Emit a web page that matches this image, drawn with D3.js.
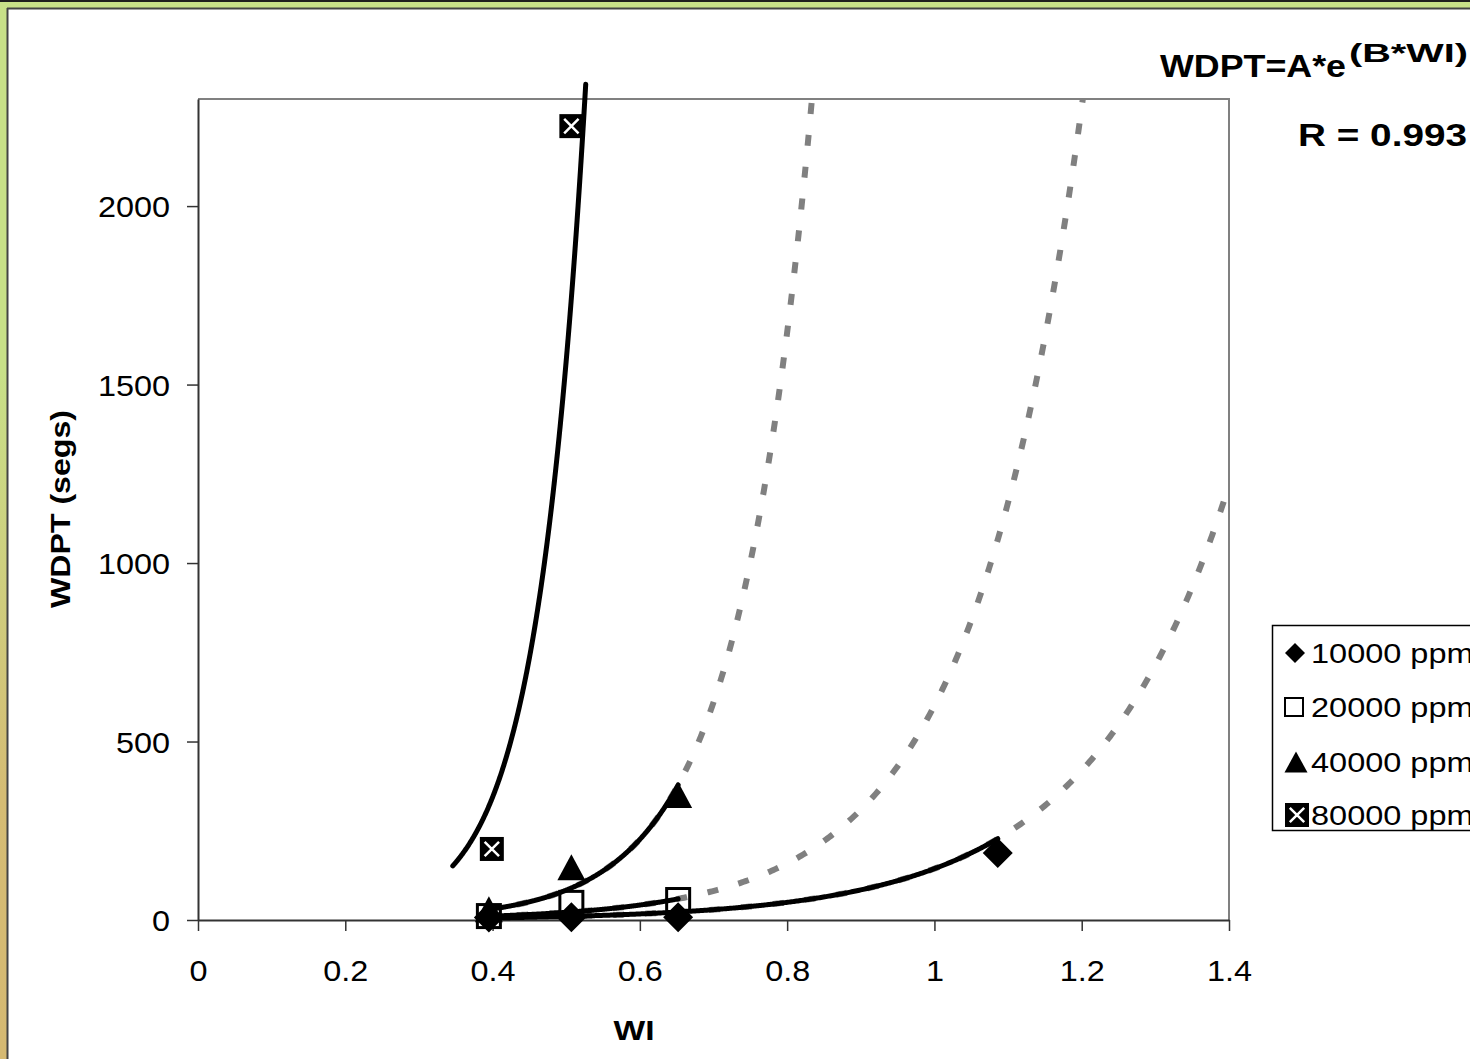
<!DOCTYPE html>
<html>
<head>
<meta charset="utf-8">
<script src="https://cdn.jsdelivr.net/npm/d3@7"></script>
<style>
  html, body { margin: 0; padding: 0; background: #fff; }
  svg { display: block; }
  text { font-family: "Liberation Sans", Arial, sans-serif; fill: #000; }
</style>
</head>
<body>
<svg id="chart" width="1470" height="1059"></svg>
<script>
// Series (CO2 concentration) and measured points
const seriesNames = ["10000 ppm", "20000 ppm", "40000 ppm", "80000 ppm"];

const wi10000 = [0.395, 0.507, 0.652, 1.086];
const wdpt10000 = [7, 8, 8, 188];
const wi20000 = [0.395, 0.507, 0.652];
const wdpt20000 = [11, 48, 56];
const wi40000 = [0.395, 0.507, 0.652];
const wdpt40000 = [30, 148, 350];
const wi80000 = [0.399, 0.507];
const wdpt80000 = [199, 2224];

// Exponential fit WDPT = A * e^(B*WI) for each series
const fitA = [0.69, 0.77, 0.584, 0.80];
const fitB = [5.34, 6.66, 9.93, 15.16];
const fitFrom = [0.39, 0.39, 0.39, 0.346];
const fitTo = [1.086, 0.652, 0.652, 0.5265];
const extendTo = 1.4;

// Axis ticks
const xTicks = [0, 0.2, 0.4, 0.6, 0.8, 1, 1.2, 1.4];
const yTicks = [0, 500, 1000, 1500, 2000];

const svg = d3.select("#chart");
const W = 1470, H = 1059;

// Widen text horizontally by a factor, keeping its glyph height
function stretch(sel, f) {
  sel.each(function () {
    const w = this.getComputedTextLength();
    d3.select(this).attr("textLength", w * f).attr("lengthAdjust", "spacingAndGlyphs");
  });
}

// Frame edges
const defs = svg.append("defs");
const grad = defs.append("linearGradient").attr("id", "edgeGrad")
  .attr("x1", 0).attr("y1", 0).attr("x2", 0).attr("y2", 1);
grad.append("stop").attr("offset", "0%").attr("stop-color", "#c8e088");
grad.append("stop").attr("offset", "35%").attr("stop-color", "#c8e088");
grad.append("stop").attr("offset", "75%").attr("stop-color", "#d5bc74");
grad.append("stop").attr("offset", "100%").attr("stop-color", "#d5b972");

svg.append("rect").attr("x", 0).attr("y", 0).attr("width", W).attr("height", H).attr("fill", "#fff");
svg.append("rect").attr("x", 0).attr("y", 0).attr("width", 7).attr("height", H).attr("fill", "url(#edgeGrad)");
svg.append("rect").attr("x", 0).attr("y", 0).attr("width", W).attr("height", 8).attr("fill", "#c8e088");
svg.append("rect").attr("x", 0).attr("y", 0).attr("width", W).attr("height", 2).attr("fill", "#1e1e1e");
svg.append("line").attr("x1", 7).attr("x2", W).attr("y1", 8.5).attr("y2", 8.5).attr("stroke", "#444").attr("stroke-width", 2);
svg.append("line").attr("x1", 7.5).attr("x2", 7.5).attr("y1", 8).attr("y2", H).attr("stroke", "#444").attr("stroke-width", 2);

// Plot area
const plot = { left: 198, right: 1229, top: 99, bottom: 920 };
const x = d3.scaleLinear().domain([0, 1.4]).range([plot.left, plot.right]);
const y = d3.scaleLinear().domain([0, 2300]).range([plot.bottom, plot.top]);

defs.append("clipPath").attr("id", "plotClip").append("rect")
  .attr("x", plot.left).attr("y", plot.top)
  .attr("width", plot.right - plot.left).attr("height", plot.bottom - plot.top);

// Plot border (top and right)
svg.append("path")
  .attr("d", `M${plot.left},${plot.top}H${plot.right}V${plot.bottom}`)
  .attr("fill", "none").attr("stroke", "#808080").attr("stroke-width", 2);

// Axes
const xAxis = d3.axisBottom(x).tickValues(xTicks).tickSize(11).tickSizeOuter(0)
  .tickFormat(d => d3.format("~g")(d));
const gx = svg.append("g").attr("transform", `translate(0,${plot.bottom})`).call(xAxis);
gx.select(".domain").attr("stroke", "#333").attr("stroke-width", 2);
gx.selectAll(".tick line").attr("stroke", "#333").attr("stroke-width", 1.5);
gx.selectAll(".tick text").attr("font-size", 30).attr("y", 0).attr("dy", 0)
  .attr("transform", "translate(0,61)")
  .style("font-family", "'Liberation Sans', Arial, sans-serif");
stretch(gx.selectAll(".tick text"), 1.08);

const yAxis = d3.axisLeft(y).tickValues(yTicks).tickSize(11).tickSizeOuter(0)
  .tickFormat(d3.format("d"));
const gy = svg.append("g").attr("transform", `translate(${plot.left},0)`).call(yAxis);
gy.select(".domain").attr("stroke", "#333").attr("stroke-width", 2);
gy.selectAll(".tick line").attr("stroke", "#333").attr("stroke-width", 1.5);
gy.selectAll(".tick text").attr("font-size", 30).attr("x", -28).attr("dy", "0.35em")
  .style("font-family", "'Liberation Sans', Arial, sans-serif");
stretch(gy.selectAll(".tick text"), 1.08);

// Axis titles
svg.append("text").attr("transform", "translate(70,509) rotate(-90)")
  .attr("text-anchor", "middle").attr("font-size", 28).attr("font-weight", "bold")
  .attr("textLength", 198).attr("lengthAdjust", "spacingAndGlyphs")
  .text("WDPT (segs)");
svg.append("text").attr("x", 634).attr("y", 1040)
  .attr("text-anchor", "middle").attr("font-size", 28).attr("font-weight", "bold")
  .attr("textLength", 41).attr("lengthAdjust", "spacingAndGlyphs")
  .text("WI");

// Fitted curves
const line = d3.line().x(d => x(d[0])).y(d => y(d[1]));
function curve(i, from, to) {
  const n = 400;
  return d3.range(n + 1).map(k => {
    const w = from + (to - from) * k / n;
    return [w, fitA[i] * Math.exp(fitB[i] * w)];
  });
}

// Extrapolated (dashed) trend
const dashG = svg.append("g").attr("clip-path", "url(#plotClip)");
for (let i = 0; i < 3; i++) {
  dashG.append("path").attr("d", line(curve(i, fitFrom[i], extendTo)))
    .attr("fill", "none").attr("stroke", "#808080").attr("stroke-width", 6)
    .attr("stroke-dasharray", "11 21");
}
// Fitted range (solid)
for (let i = 0; i < 4; i++) {
  svg.append("path").attr("d", line(curve(i, fitFrom[i], fitTo[i])))
    .attr("fill", "none").attr("stroke", "#000").attr("stroke-width", 5)
    .attr("stroke-linejoin", "round").attr("stroke-linecap", "round");
}

// Marker shapes
function diamond(g, cx, cy, r) {
  g.append("path").attr("d", `M${cx},${cy - r}L${cx + r},${cy}L${cx},${cy + r}L${cx - r},${cy}Z`).attr("fill", "#000");
}
function square(g, cx, cy, s) {
  g.append("rect").attr("x", cx - s / 2).attr("y", cy - s / 2).attr("width", s).attr("height", s)
    .attr("fill", "none").attr("stroke", "#000").attr("stroke-width", s > 20 ? 3 : 2);
}
function triangle(g, cx, cy, w, h) {
  g.append("path").attr("d", `M${cx},${cy - h / 2}L${cx + w / 2},${cy + h / 2}L${cx - w / 2},${cy + h / 2}Z`).attr("fill", "#000");
}
function xsquare(g, cx, cy, s) {
  g.append("rect").attr("x", cx - s / 2).attr("y", cy - s / 2).attr("width", s).attr("height", s).attr("fill", "#000");
  const d = s * 0.3;
  g.append("path").attr("d", `M${cx - d},${cy - d}L${cx + d},${cy + d}M${cx + d},${cy - d}L${cx - d},${cy + d}`)
    .attr("stroke", "#fff").attr("stroke-width", 2.5);
}

const mk = svg.append("g");
wi10000.forEach((w, k) => diamond(mk, x(w), y(wdpt10000[k]), 15));
wi20000.forEach((w, k) => square(mk, x(w), y(wdpt20000[k]), 23));
wi40000.forEach((w, k) => triangle(mk, x(w), y(wdpt40000[k]), 28, 26));
wi80000.forEach((w, k) => xsquare(mk, x(w), y(wdpt80000[k]), 24));

// Equation label
const eq = svg.append("g");
eq.append("text").attr("x", 1160).attr("y", 77).attr("font-size", 32).attr("font-weight", "bold")
  .attr("textLength", 186).attr("lengthAdjust", "spacingAndGlyphs").text("WDPT=A*e");
eq.append("text").attr("x", 1349).attr("y", 62).attr("font-size", 26).attr("font-weight", "bold")
  .attr("textLength", 119).attr("lengthAdjust", "spacingAndGlyphs").text("(B*WI)");
eq.append("text").attr("x", 1298).attr("y", 146).attr("font-size", 31).attr("font-weight", "bold")
  .attr("textLength", 169).attr("lengthAdjust", "spacingAndGlyphs").text("R = 0.993");

// Legend
const lg = svg.append("g");
lg.append("rect").attr("x", 1272.5).attr("y", 625.5).attr("width", 260).attr("height", 205)
  .attr("fill", "#fff").attr("stroke", "#000").attr("stroke-width", 1.5);
const rowY = [653, 707, 762, 815];
diamond(lg, 1295, rowY[0], 10);
square(lg, 1294, rowY[1], 18);
triangle(lg, 1296, rowY[2], 23, 21);
xsquare(lg, 1297, rowY[3], 24);
const lgText = lg.selectAll("text.lab").data(seriesNames).join("text").attr("class", "lab")
  .attr("x", 1311).attr("y", (d, i) => rowY[i] + 10).attr("font-size", 28)
  .text(d => d);
stretch(lgText, 1.16);
</script>
</body>
</html>
